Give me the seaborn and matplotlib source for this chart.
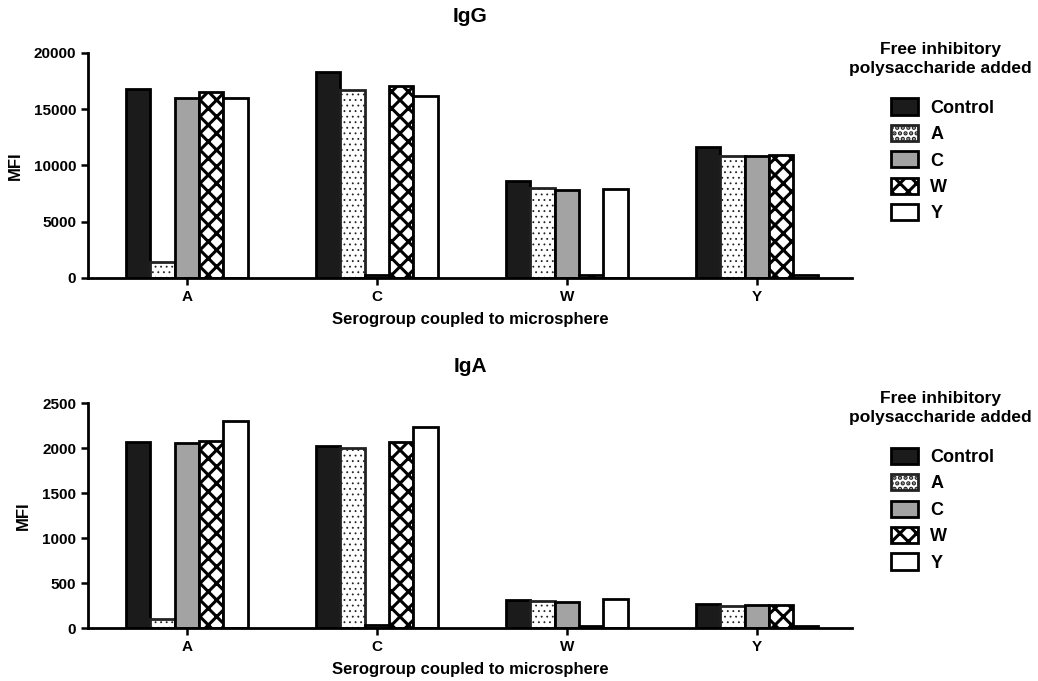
import numpy as np
import pandas as pd
import matplotlib
matplotlib.use("Agg")
import matplotlib.pyplot as plt
import seaborn as sns

# serogroup on the microsphere (x axis) and free polysaccharide added (hue)
serogroups = ["A", "C", "W", "Y"]
inhibitors = ["Control", "A", "C", "W", "Y"]

# MFI values per inhibitor, one value per serogroup
igg_values = {
    "Control": [16800, 18300, 8600, 11600],
    "A": [1400, 16700, 8000, 10800],
    "C": [16000, 300, 7800, 10850],
    "W": [16550, 17100, 250, 10900],
    "Y": [16000, 16150, 7900, 300],
}
iga_values = {
    "Control": [2065, 2020, 315, 267],
    "A": [105, 1995, 296, 248],
    "C": [2055, 35, 292, 259],
    "W": [2080, 2065, 25, 252],
    "Y": [2305, 2230, 322, 25],
}

face_colors = ["#1b1b1b", "#ffffff", "#a3a3a3", "#ffffff", "#ffffff"]
hatches = [None, "...", None, "xx", None]


def to_long(values):
    rows = []
    for inh in inhibitors:
        for sg, v in zip(serogroups, values[inh]):
            rows.append({"Serogroup": sg, "Inhibitor": inh, "MFI": v})
    return pd.DataFrame(rows)


sns.set_style("ticks")
plt.rcParams["font.family"] = ["Liberation Sans", "DejaVu Sans"]
plt.rcParams["font.weight"] = "bold"
plt.rcParams["hatch.linewidth"] = 2.2
for key in ["text.color", "axes.labelcolor", "xtick.color", "ytick.color",
            "axes.edgecolor"]:
    plt.rcParams[key] = "black"

fig = plt.figure(figsize=(10.38, 6.81), dpi=100)
ax_top = fig.add_axes([0.0848, 0.5918, 0.736, 0.3304])
ax_bot = fig.add_axes([0.0848, 0.0778, 0.736, 0.3304])


def draw_panel(ax, values, title, ymax, ystep, title_y, legend_y):
    df = to_long(values)
    sns.barplot(data=df, x="Serogroup", y="MFI", hue="Inhibitor",
                order=serogroups, hue_order=inhibitors, ax=ax,
                width=0.64, linewidth=2.0, edgecolor="black",
                palette=["white"] * 5, saturation=1, legend=False)

    for cont, fc, h in zip(ax.containers, face_colors, hatches):
        for bar in cont.patches:
            bar.set_facecolor(fc)
            bar.set_edgecolor("black")
            if h:
                bar.set_hatch(h)
                if h.startswith(".") and hasattr(bar, "set_hatch_linewidth"):
                    bar.set_hatch_linewidth(0.6)
                    bar.set_edgecolor("#222222")

    ax.set_xlim(-0.52, 3.5)
    ax.set_ylim(0, ymax)
    ax.set_yticks(np.arange(0, ymax + 1, ystep))
    ax.set_title(title, fontsize=15, fontweight="bold", pad=22)
    ax.set_xlabel("Serogroup coupled to microsphere", fontsize=12,
                  fontweight="bold", labelpad=6)
    ax.set_ylabel("MFI", fontsize=12, fontweight="bold", labelpad=8)
    ax.tick_params(axis="both", labelsize=11, width=1.8, length=5)
    for lab in ax.get_xticklabels() + ax.get_yticklabels():
        lab.set_fontweight("bold")
    sns.despine(ax=ax)
    for side in ["left", "bottom"]:
        ax.spines[side].set_linewidth(2.0)

    fig.text(0.906, title_y, "Free inhibitory\npolysaccharide added",
             ha="center", va="top", fontsize=12.5, fontweight="bold",
             linespacing=1.35)
    handles = [cont.patches[0] for cont in ax.containers]
    fig.legend(handles, inhibitors, prop={"weight": "bold", "size": 13},
               loc="upper left", bbox_to_anchor=(0.851, legend_y),
               frameon=False, handlelength=1.5, handleheight=1.0,
               labelspacing=0.45, handletextpad=0.7, borderaxespad=0)


draw_panel(ax_top, igg_values, "IgG", 20000, 5000, 0.939, 0.866)
draw_panel(ax_bot, iga_values, "IgA", 2500, 500, 0.426, 0.353)

fig.savefig("out.png", dpi=100)
